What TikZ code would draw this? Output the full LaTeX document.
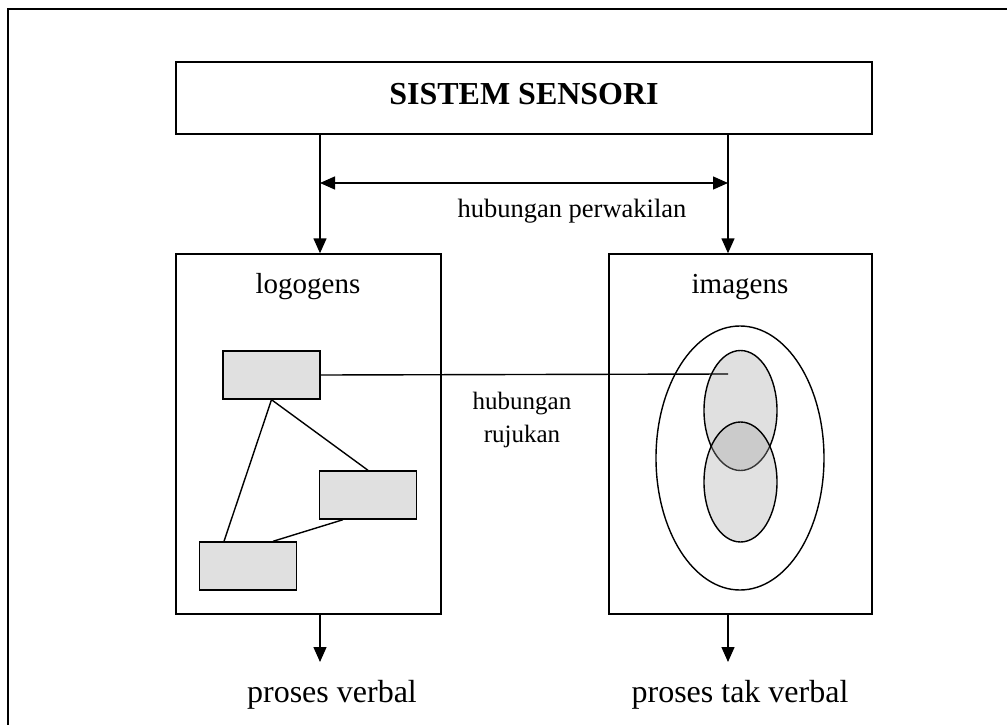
\documentclass[tikz,border=0pt]{standalone}
\usepackage{fontspec}
\setmainfont{Liberation Serif}
\usepackage{xcolor}
\usetikzlibrary{arrows.meta, positioning, shapes.geometric}
\definecolor{boxgray}{HTML}{E0E0E0}
\definecolor{blobgray}{HTML}{A3A3A3}

\begin{document}
\begin{tikzpicture}[x=1pt, y=-1pt, line width=1.4pt,
    >={Triangle[length=15pt,width=13pt]},
    box/.style={draw, rectangle, inner sep=0pt},
    gbox/.style={draw, fill=boxgray, minimum width=97pt, minimum height=48pt, inner sep=0pt},
    blob/.style={draw, ellipse, inner sep=0pt, minimum width=73pt, minimum height=120pt},
    big/.style={font=\fontsize{32}{38}\selectfont},
    mid/.style={font=\fontsize{29}{34}\selectfont},
    small/.style={font=\fontsize{26.5}{33}\selectfont}]
      \useasboundingbox (0,0) rectangle (1007,725);
      \draw[line width=2pt] (8,735) -- (8,9) -- (1015,9);

      \node[box, big, minimum width=696pt, minimum height=72pt, text depth=9pt,
            font=\fontsize{32}{38}\selectfont\bfseries] (sensori) at (524,98) {SISTEM SENSORI};
      \node[box, minimum width=265pt, minimum height=360pt] (logo) at (308.5,434) {};
      \node[box, minimum width=263pt, minimum height=360pt] (imag) at (740.5,434) {};
      \node[mid, anchor=base] (logolbl) at (308,293) {logogens};
      \node[mid, anchor=base] (imaglbl) at (740,293) {imagens};

      \coordinate (vl) at (320,0);
      \coordinate (vr) at (728,0);
      \coordinate (hl) at (0,183);
      \coordinate (bt) at (0,662);

      \draw[->] (sensori.south -| vl) -- (logo.north -| vl);
      \draw[->] (sensori.south -| vr) -- (imag.north -| vr);
      \draw[<->] (vl |- hl) -- (vr |- hl);
      \node[small, anchor=base] (perw) at (572,217) {hubungan perwakilan};

      \node[gbox] (w1) at (271.5,375) {};
      \node[gbox] (w2) at (368,495) {};
      \node[gbox] (w3) at (248,566) {};
      \draw (w1.south) -- (w2.north);
      \draw (w1.south) -- ([xshift=-24pt]w3.north);
      \draw ([xshift=-25pt]w2.south) -- ([xshift=25pt]w3.north);

      \node[draw, ellipse, inner sep=0pt, minimum width=168pt, minimum height=264pt] (img) at (740,458) {};
      \node[blob, fill=boxgray] (b1) at (740.5,410.5) {};
      \node[blob, fill=blobgray, fill opacity=0.33] (b2) at (740.5,482) {};

      \coordinate (rj) at (728,374);
      \draw (w1.east) -- (rj);
      \node[font=\fontsize{25}{33}\selectfont, align=center] (ruj) at (522,420) {hubungan\\rujukan};

      \draw[->] (logo.south -| vl) -- (vl |- bt);
      \draw[->] (imag.south -| vr) -- (vr |- bt);
      \node[big, anchor=base] (pv) at (332,702) {proses verbal};
      \node[big, anchor=base] (ptv) at (740,702) {proses tak verbal};
\end{tikzpicture}
\end{document}
